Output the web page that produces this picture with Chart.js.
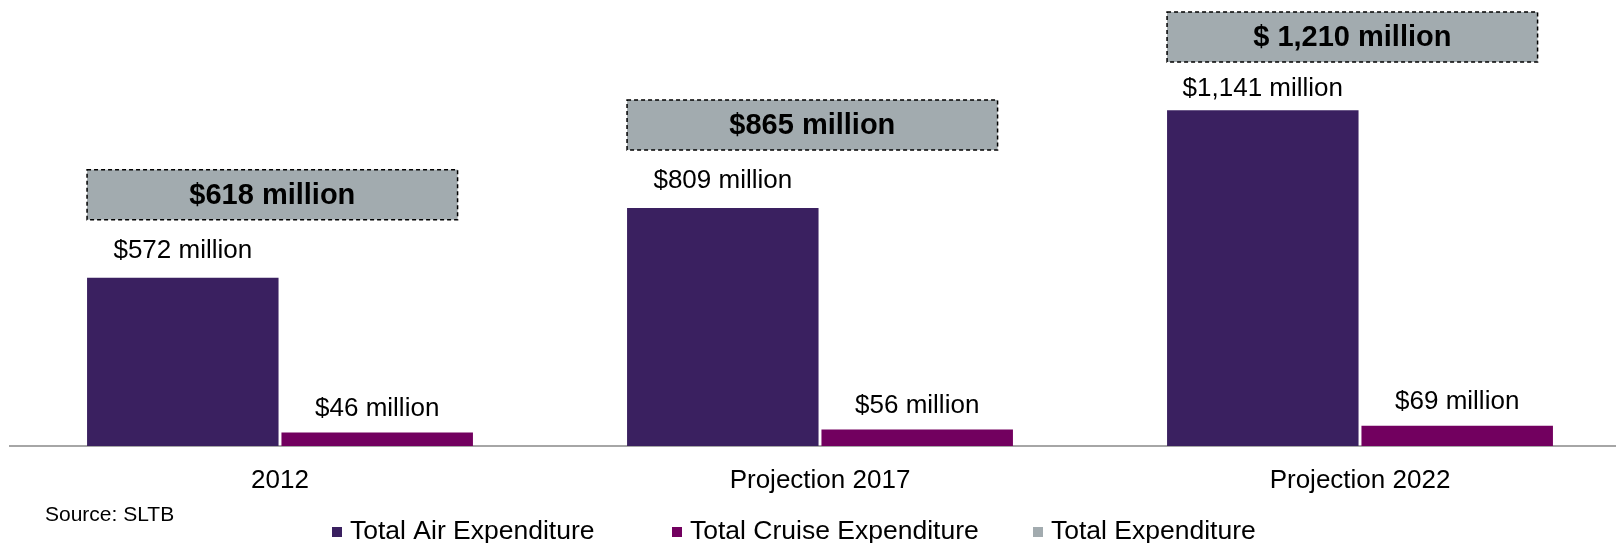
<!DOCTYPE html>
<html lang="en">
<head>
<meta charset="UTF-8">
<title>Tourism Expenditure</title>
<script src="https://cdn.jsdelivr.net/npm/chart.js"></script>
<style>
    html, body { margin: 0; padding: 0; background: #fff; overflow: hidden; }
    .wrap { position: relative; width: 1630px; height: 543px; }
</style>
</head>
<body>
<div class="wrap">
    <canvas id="myChart"></canvas>
</div>

<script>
// dados do gráfico (US$ milhões)
const anos = ['2012', 'Projection 2017', 'Projection 2022'];
const gastoAereo = [572, 809, 1141];
const gastoCruzeiro = [46, 56, 69];
const gastoTotal = [618, 865, 1210];

const FONTE = "'Liberation Sans', Arial, sans-serif";

function formatar(v) {
    return '$' + v.toLocaleString('en-US') + ' million';
}

// o total acima de mil aparece com espaço depois do cifrão
function formatarTotal(v) {
    return (v >= 1000 ? '$ ' : '$') + v.toLocaleString('en-US') + ' million';
}

// rótulos das barras, caixas dos totais, fonte e legenda
const rotulos = {
    id: 'rotulos',
    afterDatasetsDraw(chart) {
        const ctx = chart.ctx;
        const air = chart.getDatasetMeta(0).data;
        const cruise = chart.getDatasetMeta(1).data;
        ctx.save();
        ctx.textAlign = 'center';
        ctx.textBaseline = 'middle';

        air.forEach(function (bar, i) {
            // caixa cinza tracejada com o total (não passa do topo)
            const w = bar.width * 1.935;
            const h = 50;
            const left = bar.x - bar.width / 2;
            const top = Math.max(12, bar.y - 108);
            ctx.fillStyle = '#A2ABAF';
            ctx.fillRect(left, top, w, h);
            ctx.setLineDash([4, 3]);
            ctx.lineWidth = 1.5;
            ctx.strokeStyle = '#000';
            ctx.strokeRect(left, top, w, h);
            ctx.setLineDash([]);
            ctx.fillStyle = '#000';
            ctx.font = 'bold 29px ' + FONTE;
            ctx.fillText(formatarTotal(gastoTotal[i]), left + w / 2, top + h / 2 + 1);

            // valor da barra aérea, logo abaixo da caixa
            ctx.font = '26px ' + FONTE;
            const yTexto = Math.max(bar.y - 27, top + h + 27);
            ctx.fillText(formatar(gastoAereo[i]), bar.x, yTexto);
        });

        ctx.font = '26px ' + FONTE;
        cruise.forEach(function (bar, i) {
            ctx.fillText(formatar(gastoCruzeiro[i]), bar.x, bar.y - 24);
        });

        ctx.textAlign = 'left';
        ctx.font = '21px ' + FONTE;
        ctx.fillText('Source: SLTB', 45, 515);

        // legenda embaixo, quadradinho + nome de cada série
        const posLegenda = [332, 672, 1033];
        ctx.font = '26.5px ' + FONTE;
        chart.data.datasets.forEach(function (ds, i) {
            const x = posLegenda[i];
            ctx.fillStyle = ds.backgroundColor;
            ctx.fillRect(x, 527, 10, 10);
            ctx.fillStyle = '#000';
            ctx.fillText(ds.label, x + 18, 532);
        });
        ctx.restore();
    }
};

const ctx = document.getElementById('myChart').getContext('2d');
new Chart(ctx, {
    type: 'bar',
    data: {
        labels: anos,
        datasets: [{
            label: 'Total Air Expenditure',
            data: gastoAereo,
            backgroundColor: '#3A2060',
            categoryPercentage: 0.72,
            barPercentage: 0.985
        }, {
            label: 'Total Cruise Expenditure',
            data: gastoCruzeiro,
            backgroundColor: '#72005F',
            categoryPercentage: 0.72,
            barPercentage: 0.985
        }, {
            // só aparece na legenda, o valor vai na caixa
            type: 'line',
            label: 'Total Expenditure',
            data: gastoTotal,
            backgroundColor: '#A2ABAF',
            borderColor: '#A2ABAF',
            borderWidth: 0,
            showLine: false,
            pointRadius: 0
        }]
    },
    options: {
        responsive: true,
        maintainAspectRatio: false,
        animation: false,
        layout: {
            padding: { top: 34, left: 10, right: 0, bottom: 0 }
        },
        plugins: {
            legend: { display: false },
            tooltip: { enabled: false }
        },
        scales: {
            x: {
                grid: { display: false, drawTicks: false },
                border: { display: true, color: '#A6A6A6', width: 2 },
                ticks: {
                    padding: 19,
                    color: '#000',
                    font: { size: 26, family: FONTE }
                },
                afterFit: function (scale) { scale.height = 97; }
            },
            y: {
                display: false,
                beginAtZero: true,
                min: 0,
                max: 1400
            }
        }
    },
    plugins: [rotulos]
});
</script>
</body>
</html>
